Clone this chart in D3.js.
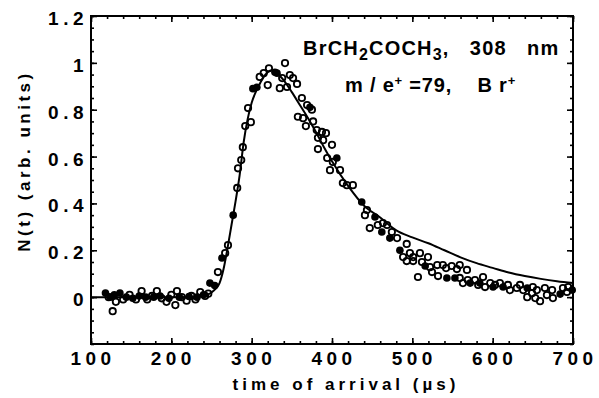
<!DOCTYPE html>
<html>
<head>
<meta charset="utf-8">
<script src="https://cdn.jsdelivr.net/npm/d3@7"></script>
<style>
  body { margin: 0; background: #fff; }
  svg { display: block; font-family: "Liberation Sans", Arial, sans-serif; }
  .tick-label { font-weight: bold; font-size: 19px; fill: #000; }
</style>
</head>
<body>
<svg id="chart"></svg>
<script>
// open circles
const openT = [122,127,131,140,148,156,163,170,176,182,188,194,200,205,207,213,219,225,230,236,242,246,
  258,267,270.5,282,283,287,289,292,295.5,299,310,315,320,321.5,335,338,341.5,344,347.5,351.5,356.5,357.5,
  362.5,364,367.5,369,375,376.5,381,382.5,382.5,387.5,389,392.5,394,397.5,400,401,410,413.5,418.5,426,
  441,443.5,447,457,463.5,468.5,474.5,481,488.5,493,493,497,501,501,507,509.5,512,519.5,522,524.5,531,532,
  538,542,549,555.5,559,559,563,568,569,578,582,588,590.5,597,603,609,619,621.5,630,634,638,643,649,650,
  653,655,659,665,667.5,674,675,687.5,692.5,694];
const openV = [0.0,-0.06,-0.02,-0.01,0.01,-0.01,0.026,-0.01,0.005,0.026,-0.005,-0.02,0.01,-0.034,0.026,0.0,-0.015,0.005,-0.01,0.022,0.005,0.015,
  0.107,0.188,0.222,0.466,0.55,0.585,0.64,0.73,0.807,0.747,0.94,0.956,0.905,0.977,0.892,0.935,0.999,0.897,0.948,0.935,0.91,0.77,
  0.85,0.764,0.73,0.82,0.80,0.75,0.713,0.68,0.632,0.705,0.67,0.70,0.594,0.542,0.65,0.577,0.542,0.487,0.478,0.478,
  0.35,0.372,0.295,0.308,0.316,0.308,0.278,0.252,0.171,0.227,0.154,0.188,0.171,0.154,0.086,0.188,0.15,0.171,0.128,0.107,0.137,0.09,
  0.137,0.124,0.133,0.12,0.137,0.082,0.06,0.116,0.073,0.073,0.052,0.086,0.043,0.06,0.052,0.06,0.052,0.03,0.039,0.052,0.03,0.0,0.017,0.043,
  -0.004,0.03,-0.017,0.039,0.009,0.03,-0.004,0.039,0.022,0.043];

// filled circles
const filledT = [118,124,129,136,144,152,160,168,178,186,197,210,222,232,240,248,254,
  263,277,301.5,306.5,329,331.5,372.5,406,437,453.5,462,472,484.5,516,543,553,572,584,600.5,613,643,684,699];
const filledV = [0.018,0.0,0.01,0.018,0.0,-0.005,0.005,0.0,0.0,0.005,-0.005,0.0,0.003,0.0,0.01,0.06,0.05,
  0.167,0.35,0.89,0.896,0.96,0.956,0.81,0.594,0.406,0.342,0.278,0.252,0.20,0.133,0.082,0.082,0.06,0.06,0.043,0.043,0.039,0.013,0.03];

// fitted curve
const fitT = [100,200,240,250,255,260,265,270,275,280,285,290,295,300,305,310,315,320,325,330,335,340,350,360,370,380,390,400,
  420,440,460,480,500,520,540,560,580,600,620,640,660,680,700];
const fitV = [0,0,0.005,0.02,0.035,0.06,0.12,0.21,0.31,0.41,0.52,0.66,0.76,0.83,0.875,0.91,0.94,0.96,0.968,0.96,0.945,0.925,0.875,0.82,0.765,0.705,0.64,0.58,
  0.475,0.39,0.34,0.285,0.255,0.23,0.2,0.17,0.145,0.125,0.105,0.09,0.078,0.068,0.06];

const xTicks = [100,200,300,400,500,600,700];
const yTicks = [0,0.2,0.4,0.6,0.8,1,1.2];
const yTickLabels = ["0","0.2","0.4","0.6","0.8","1","1.2"];

const W = 599, H = 398;
const margin = {top: 16, right: 26, bottom: 54, left: 91};
const width = W - margin.left - margin.right;
const height = H - margin.top - margin.bottom;

const svg = d3.select('#chart').attr('width', W).attr('height', H);
const g = svg.append('g').attr('transform', `translate(${margin.left},${margin.top})`);

const x = d3.scaleLinear().domain([100, 700]).range([0, width]);
const y = d3.scaleLinear().domain([-0.2, 1.2]).range([height, 0]);

// ticks on all four sides, pointing inward
const xMinor = d3.range(100, 701, 20);
const yMinor = d3.range(-0.2, 1.2001, 0.05);
function tickAxes(axisFn, scale, major, minor, tr) {
  const a = g.append('g').attr('transform', tr)
    .call(axisFn(scale).tickValues(minor).tickSize(-3).tickFormat(''));
  const b = g.append('g').attr('transform', tr)
    .call(axisFn(scale).tickValues(major).tickSize(-6).tickFormat(''));
  [a, b].forEach(s => {
    s.select('.domain').remove();
    s.selectAll('line').attr('stroke', '#000').attr('stroke-width', 1.6);
  });
}
tickAxes(d3.axisBottom, x, xTicks, xMinor, `translate(0,${height})`);
tickAxes(d3.axisTop, x, xTicks, xMinor, 'translate(0,0)');
tickAxes(d3.axisLeft, y, yTicks, yMinor, 'translate(0,0)');
tickAxes(d3.axisRight, y, yTicks, yMinor, `translate(${width},0)`);

// frame
g.append('rect').attr('width', width).attr('height', height)
  .attr('fill', 'none').attr('stroke', '#000').attr('stroke-width', 2);

// tick labels
g.selectAll('.xl').data(xTicks).enter().append('text')
  .attr('class', 'tick-label')
  .attr('x', d => x(d) + 2).attr('y', height + 21)
  .attr('text-anchor', 'middle').attr('letter-spacing', 4.5)
  .text(d => d);
g.selectAll('.yl').data(yTicks).enter().append('text')
  .attr('class', 'tick-label')
  .attr('x', -3).attr('y', d => y(d) + 9)
  .attr('text-anchor', 'end').attr('letter-spacing', 4.5)
  .text((d, i) => yTickLabels[i]);

// axis titles
svg.append('text')
  .attr('x', 346).attr('y', 390).attr('text-anchor', 'middle')
  .attr('font-weight', 'bold').attr('font-size', 17).attr('letter-spacing', 4)
  .style('white-space', 'pre')
  .text('time of arrival (\u00b5s)');
svg.append('text')
  .attr('transform', 'translate(30,161) rotate(-90)').attr('text-anchor', 'middle')
  .attr('font-weight', 'bold').attr('font-size', 17).attr('letter-spacing', 3.5)
  .style('white-space', 'pre')
  .text('N(t) (arb. units)');

// fitted curve
const line = d3.line().x((d, i) => x(fitT[i])).y(d => y(d)).curve(d3.curveMonotoneX);
g.append('path').datum(fitV).attr('d', line)
  .attr('fill', 'none').attr('stroke', '#000').attr('stroke-width', 2);

// data points
g.selectAll('.open').data(openV).enter().append('circle')
  .attr('cx', (d, i) => x(openT[i])).attr('cy', d => y(d)).attr('r', 3.2)
  .attr('fill', 'none').attr('stroke', '#000').attr('stroke-width', 1.8);
g.selectAll('.filled').data(filledV).enter().append('circle')
  .attr('cx', (d, i) => x(filledT[i])).attr('cy', d => y(d)).attr('r', 3.8)
  .attr('fill', '#000');

// annotation
const ann = svg.append('text').attr('x', 303).attr('y', 55)
  .attr('font-size', 20).attr('font-weight', 'bold').attr('letter-spacing', 1.2)
  .style('white-space', 'pre');
ann.append('tspan').text('BrCH');
ann.append('tspan').attr('font-size', 16).attr('dy', 5).text('2');
ann.append('tspan').attr('dy', -5).text('COCH');
ann.append('tspan').attr('font-size', 16).attr('dy', 5).text('3');
ann.append('tspan').attr('dy', -5).text(',   308   nm');

const ann2 = svg.append('text').attr('x', 345).attr('y', 92)
  .attr('font-size', 20).attr('font-weight', 'bold').attr('letter-spacing', 0.8)
  .style('white-space', 'pre');
ann2.append('tspan').text('m / e');
ann2.append('tspan').attr('font-size', 13).attr('dy', -7).text('+');
ann2.append('tspan').attr('dy', 7).text(' =79,    B r');
ann2.append('tspan').attr('font-size', 13).attr('dy', -7).text('+');
</script>
</body>
</html>
